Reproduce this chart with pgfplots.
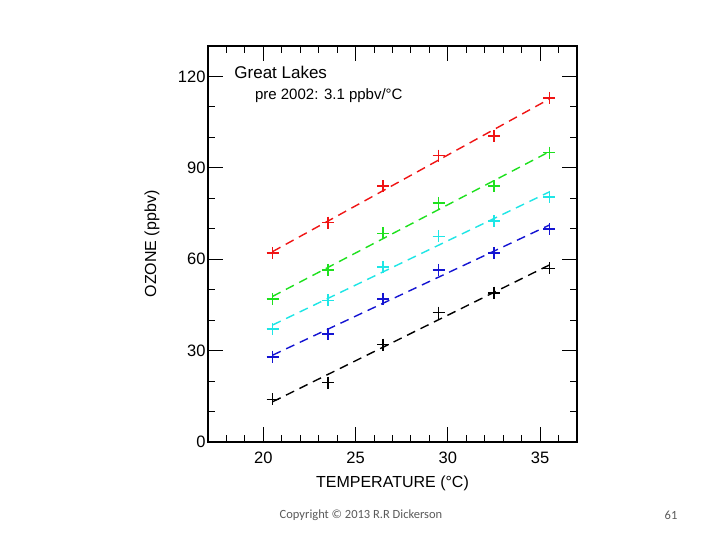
\documentclass[border=0pt]{standalone}
\usepackage{pgfplots}
\pgfplotsset{compat=1.18}
\usepackage{fontspec}
\setmainfont{Liberation Sans}
\newfontfamily\calibri{Carlito}
\definecolor{cred}{RGB}{240,20,20}
\definecolor{cgreen}{RGB}{30,225,30}
\definecolor{ccyan}{RGB}{30,230,230}
\definecolor{cblue}{RGB}{20,20,210}
\definecolor{cgray}{RGB}{90,90,90}
\begin{document}
\begin{tikzpicture}[x=1pt,y=1pt]
\fill[white] (0,0) rectangle (720,540);
\path[use as bounding box] (0,0) rectangle (720,540);
\begin{axis}[
  at={(208pt,98pt)}, anchor=south west,
  scale only axis, width=369pt, height=396pt,
  xmin=17, xmax=37, ymin=0, ymax=130,
  xtick={20,25,30,35}, ytick={0,30,60,90,120},
  minor xtick={18,19,21,22,23,24,26,27,28,29,31,32,33,34,36},
  minor ytick={10,20,40,50,70,80,100,110},
  tick align=inside, major tick length=15pt, minor tick length=7pt,
  axis line style={line width=1.2pt},
  every tick/.style={black, line width=1pt},
  tick label style={font=\fontsize{16.5}{19}\selectfont},
  xticklabel style={yshift=-6pt},
  yticklabel style={xshift=1pt},
  /pgf/number format/assume math mode=true,
  xlabel={TEMPERATURE (°C)}, ylabel={OZONE (ppbv)},
  label style={font=\fontsize{16}{19}\selectfont},
  xlabel style={at={(axis description cs:0.5,-0.1035)}, anchor=center},
  ylabel style={at={(axis description cs:-0.152,0.5)}, anchor=center},
  clip=false,
]
\node[anchor=west, font=\fontsize{17}{20}\selectfont] at (axis description cs:0.062,0.932) {Great Lakes};
\node[anchor=west, font=\fontsize{15}{18}\selectfont] at (axis description cs:0.118,0.874) {pre 2002: 3.1 ppbv/°C};

% red
\addplot[cred, only marks, mark=+, mark size=6pt, line width=1.6pt] coordinates {(20.5,62) (23.5,72) (26.5,84) (29.5,94) (32.5,100.5) (35.5,113)};
\addplot[cred, line width=1.4pt, dash pattern=on 9pt off 6pt] coordinates {(20.5,62.5) (35.5,112.6)};
% green
\addplot[cgreen, only marks, mark=+, mark size=6pt, line width=1.6pt] coordinates {(20.5,47) (23.5,56.5) (26.5,68.5) (29.5,78.5) (32.5,84) (35.5,95)};
\addplot[cgreen, line width=1.4pt, dash pattern=on 9pt off 6pt] coordinates {(20.5,47.8) (35.5,95.3)};
% cyan
\addplot[ccyan, only marks, mark=+, mark size=6pt, line width=1.6pt] coordinates {(20.5,37) (23.5,46.5) (26.5,57.5) (29.5,67.5) (32.5,72.5) (35.5,80.5)};
\addplot[ccyan, line width=1.4pt, dash pattern=on 9pt off 6pt] coordinates {(20.5,38.4) (35.5,82.1)};
% blue
\addplot[cblue, only marks, mark=+, mark size=6pt, line width=1.6pt] coordinates {(20.5,28) (23.5,35.5) (26.5,47) (29.5,56.5) (32.5,62) (35.5,70)};
\addplot[cblue, line width=1.4pt, dash pattern=on 9pt off 6pt] coordinates {(20.5,28.5) (35.5,71.2)};
% black
\addplot[black, only marks, mark=+, mark size=6pt, line width=1.6pt] coordinates {(20.5,14) (23.5,19.5) (26.5,32) (29.5,42.5) (32.5,49) (35.5,57)};
\addplot[black, line width=1.4pt, dash pattern=on 9pt off 6pt] coordinates {(20.5,13.2) (35.5,58.1)};
\end{axis}
\node[font=\calibri\fontsize{12.5}{15}\selectfont, text=cgray] at (361,25) {Copyright © 2013  R.R  Dickerson};
\node[font=\calibri\fontsize{12.5}{15}\selectfont, text=cgray] at (671,25) {61};
\end{tikzpicture}
\end{document}
